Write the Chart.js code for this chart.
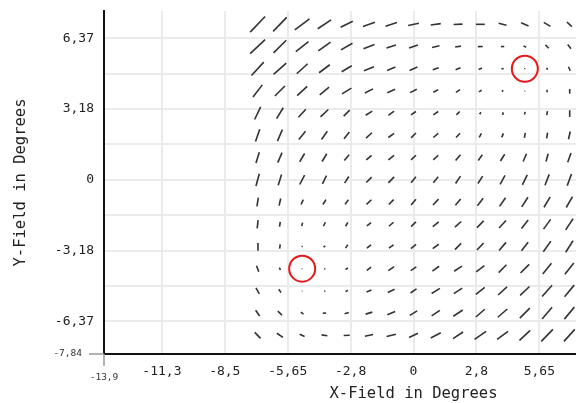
<!DOCTYPE html>
<html><head><meta charset="utf-8">
<script src="https://cdn.jsdelivr.net/npm/chart.js@4.4.1/dist/chart.umd.min.js"></script>
<style>html,body{margin:0;padding:0;overflow:hidden;background:#fff;width:576px;height:403px}</style>
</head><body>
<canvas id="c" width="724" height="403" style="width:724px;height:403px;display:block"></canvas>
<script>
// grid of field positions (degrees)
const gridX = [-7,-6,-5,-4,-3,-2,-1,0,1,2,3,4,5,6,7];
const gridY = [7,6,5,4,3,2,1,0,-1,-2,-3,-4,-5,-6,-7];
// segment components (degrees), one row per gridY value, one entry per gridX value
const dxRows = [
  [0.67,0.61,0.66,0.60,0.55,0.54,0.51,0.48,0.45,0.40,0.40,0.35,0.33,0.30,0.22],
  [0.67,0.57,0.57,0.55,0.52,0.49,0.42,0.39,0.33,0.26,0.22,0.15,0.12,0.15,0.15],
  [0.55,0.57,0.49,0.48,0.45,0.45,0.37,0.35,0.27,0.22,0.15,0.10,0.02,0.04,0.08],
  [0.42,0.45,0.45,0.42,0.42,0.37,0.35,0.30,0.22,0.19,0.12,0.06,0.02,0.00,0.03],
  [0.27,0.30,0.33,0.35,0.27,0.30,0.26,0.22,0.22,0.15,0.06,0.03,0.03,0.03,0.03],
  [0.19,0.22,0.30,0.26,0.24,0.27,0.26,0.22,0.22,0.18,0.10,0.08,0.04,0.04,0.08],
  [0.15,0.19,0.22,0.21,0.22,0.24,0.26,0.22,0.22,0.22,0.18,0.19,0.15,0.10,0.15],
  [0.15,0.15,0.22,0.18,0.19,0.24,0.26,0.22,0.22,0.22,0.21,0.22,0.22,0.19,0.19],
  [0.06,0.07,0.10,0.13,0.15,0.22,0.22,0.22,0.25,0.24,0.26,0.27,0.28,0.28,0.28],
  [0.04,0.03,0.04,0.09,0.10,0.19,0.21,0.22,0.27,0.28,0.30,0.31,0.30,0.32,0.33],
  [0.03,0.03,0.03,0.08,0.10,0.19,0.21,0.23,0.27,0.28,0.30,0.31,0.30,0.34,0.33],
  [0.10,0.04,0.02,0.03,0.10,0.19,0.26,0.25,0.30,0.35,0.37,0.35,0.39,0.39,0.40],
  [0.15,0.10,0.02,0.03,0.10,0.22,0.30,0.27,0.37,0.38,0.40,0.40,0.42,0.45,0.43],
  [0.18,0.19,0.12,0.15,0.19,0.30,0.35,0.33,0.37,0.43,0.40,0.43,0.45,0.45,0.45],
  [0.26,0.27,0.22,0.26,0.27,0.37,0.42,0.40,0.45,0.45,0.52,0.49,0.48,0.52,0.49]
];
const dyRows = [
  [0.70,0.63,0.49,0.40,0.27,0.19,0.17,0.10,0.06,0.02,0.00,-0.09,-0.15,-0.18,-0.21],
  [0.63,0.57,0.45,0.39,0.30,0.19,0.13,0.13,0.08,0.04,0.01,0.00,-0.06,-0.15,-0.19],
  [0.60,0.51,0.45,0.36,0.27,0.18,0.15,0.15,0.09,0.08,0.06,0.03,0.03,-0.09,-0.18],
  [0.55,0.45,0.42,0.35,0.26,0.19,0.15,0.15,0.12,0.12,0.08,0.06,0.02,0.12,0.18],
  [0.57,0.49,0.36,0.33,0.27,0.19,0.19,0.15,0.15,0.15,0.09,0.09,0.12,0.18,0.27],
  [0.55,0.52,0.37,0.37,0.30,0.24,0.19,0.22,0.19,0.19,0.18,0.18,0.22,0.26,0.35],
  [0.49,0.45,0.37,0.35,0.26,0.21,0.21,0.21,0.21,0.26,0.26,0.30,0.35,0.35,0.42],
  [0.55,0.48,0.42,0.37,0.30,0.24,0.27,0.27,0.27,0.33,0.33,0.40,0.45,0.49,0.52],
  [0.40,0.32,0.22,0.22,0.21,0.21,0.22,0.26,0.26,0.28,0.34,0.39,0.43,0.47,0.49],
  [0.37,0.22,0.15,0.18,0.18,0.15,0.18,0.21,0.22,0.25,0.30,0.34,0.38,0.44,0.50],
  [0.31,0.19,0.03,0.06,0.15,0.15,0.15,0.19,0.20,0.28,0.32,0.37,0.39,0.48,0.52],
  [-0.27,-0.11,0.02,0.01,0.08,0.15,0.18,0.17,0.22,0.23,0.28,0.35,0.39,0.48,0.51],
  [-0.27,-0.15,0.01,0.01,0.06,0.09,0.15,0.19,0.23,0.25,0.31,0.37,0.40,0.51,0.52],
  [-0.26,-0.18,-0.09,0.00,0.06,0.09,0.15,0.20,0.25,0.28,0.35,0.37,0.45,0.52,0.54],
  [-0.27,-0.19,-0.10,-0.04,0.01,0.08,0.10,0.19,0.24,0.30,0.36,0.36,0.45,0.54,0.54]
];
// circled positions
const markedX = [-5, 5];
const markedY = [-4, 5];
// axes
const xMin = -13.9, xMax = 13.9;
const yMin = -7.84, yMax = 7.6;
const xTicks = [-13.9,-11.3,-8.475,-5.65,-2.825,0,2.825,5.65,8.475,11.3];
const xTickLabels = ['-13,9','-11,3','-8,5','-5,65','-2,8','0','2,8','5,65','8,5','11,3'];
const yTicks = [-7.84,-6.37,-4.7775,-3.185,-1.5925,0,1.5925,3.185,4.7775,6.37];
const yTickLabels = ['-7,84','-6,37','','-3,18','','0','','3,18','','6,37'];

const MONO = '"DejaVu Sans Mono", monospace';
const datasets = [];
gridY.forEach((yc, r) => {
  gridX.forEach((xc, c) => {
    const u = dxRows[r][c] / 2, v = dyRows[r][c] / 2;
    datasets.push({
      type: 'scatter', showLine: true,
      data: [{x: xc - u, y: yc - v}, {x: xc + u, y: yc + v}],
      borderColor: '#333', borderWidth: 1.6, pointRadius: 0, fill: false
    });
  });
});
datasets.push({
  type: 'scatter',
  data: markedX.map((x, i) => ({x, y: markedY[i]})),
  pointRadius: 13, pointBorderWidth: 2, pointBorderColor: '#e41a1c',
  pointBackgroundColor: 'rgba(0,0,0,0)', showLine: false
});

const minLabels = {
  id: 'minLabels',
  afterDraw(chart) {
    const {ctx, scales: {x, y}} = chart;
    const px = x.getPixelForValue(xMin), py = y.getPixelForValue(yMin);
    ctx.save();
    ctx.strokeStyle = '#999'; ctx.lineWidth = 1.5;
    ctx.beginPath();
    ctx.moveTo(px - 15, py); ctx.lineTo(px, py);
    ctx.moveTo(px, py); ctx.lineTo(px, py + 12);
    ctx.stroke();
    ctx.fillStyle = '#333';
    ctx.font = '9.5px ' + MONO;
    ctx.textAlign = 'right'; ctx.textBaseline = 'middle';
    ctx.fillText(yTickLabels[0], px - 22, py);
    ctx.textAlign = 'center';
    ctx.fillText(xTickLabels[0], px, py + 24);
    ctx.restore();
  }
};

new Chart(document.getElementById('c'), {
  type: 'scatter',
  data: {datasets},
  plugins: [minLabels],
  options: {
    responsive: false, animation: false, events: [],
    layout: {autoPadding: false, padding: {top: 11, right: 1, left: 0, bottom: 0}},
    plugins: {legend: {display: false}, tooltip: {enabled: false}},
    scales: {
      x: {
        type: 'linear', min: xMin, max: xMax,
        afterBuildTicks: s => { s.ticks = xTicks.map(v => ({value: v})); },
        afterFit: s => { s.height = 49; s.paddingLeft = 0; s.paddingRight = 0; },
        ticks: {
          callback: (v, i) => i === 0 ? '' : xTickLabels[i],
          font: {family: MONO, size: 13}, color: '#222', padding: 10,
          maxRotation: 0, autoSkip: false
        },
        grid: {color: '#ebebeb', lineWidth: 2, drawTicks: false},
        border: {color: '#111', width: 2},
        title: {display: true, text: 'X-Field in Degrees', color: '#222',
          font: {family: MONO, size: 15.5}, padding: {top: 0, bottom: 0}}
      },
      y: {
        type: 'linear', min: yMin, max: yMax,
        afterBuildTicks: s => { s.ticks = yTicks.map(v => ({value: v})); },
        afterFit: s => { s.width = 104; s.paddingTop = 0; s.paddingBottom = 0; },
        ticks: {
          callback: (v, i) => i === 0 ? '' : yTickLabels[i],
          font: {family: MONO, size: 13}, color: '#222', padding: 10,
          autoSkip: false
        },
        grid: {color: '#ebebeb', lineWidth: 2, drawTicks: false},
        border: {color: '#111', width: 2},
        title: {display: true, text: 'Y-Field in Degrees', color: '#222',
          font: {family: MONO, size: 15.5}, padding: {top: 12, bottom: 0}}
      }
    }
  }
});
</script>
</body></html>
